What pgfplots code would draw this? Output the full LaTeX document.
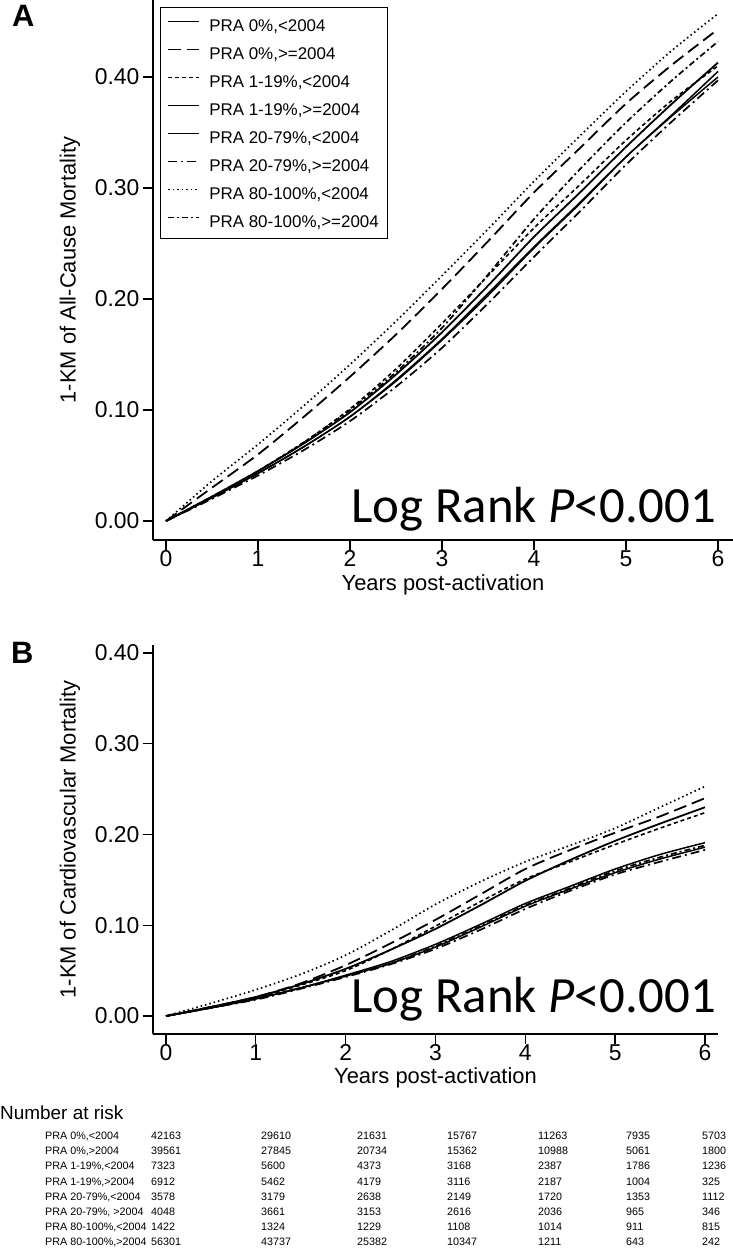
\documentclass[border=0pt]{standalone}
\usepackage{pgfplots}
\pgfplotsset{compat=1.18}
\usepackage{fontspec}
\setmainfont{Liberation Sans}
\newfontfamily\calibri{Carlito}
\begin{document}
\begin{tikzpicture}
\path[use as bounding box] (0bp,0bp) rectangle (733bp,1251bp);
\pgfplotsset{
  kmaxis/.style={
    scale only axis,
    anchor=south west,
    axis x line*=bottom, axis y line*=left,
    axis line style={line width=1.3bp, black},
    tick align=outside,
    major tick length=10bp,
    tick style={line width=1.3bp, black},
    xtick={0,1,2,3,4,5,6},
    ytick={0,0.1,0.2,0.3,0.4},
    yticklabels={0.00,0.10,0.20,0.30,0.40},
    /pgf/number format/assume math mode=true,
    ticklabel style={font=\fontsize{23}{26}\selectfont},
    xticklabel style={yshift=3bp},
    label style={font=\fontsize{22}{26}\selectfont},
    clip=false,
    every axis plot/.append style={smooth, tension=0.45},
  },
  s1/.style={black, line width=1.8bp, solid},
  s2/.style={black, line width=1.8bp, dash pattern=on 13bp off 6bp},
  s3/.style={black, line width=1.6bp, dash pattern=on 4bp off 3bp},
  s4/.style={black, line width=1.5bp, solid},
  s5/.style={black, line width=1.5bp, solid},
  s6/.style={black, line width=1.7bp, dash pattern=on 9bp off 4bp on 2bp off 4bp},
  s7/.style={black, line width=1.7bp, dash pattern=on 1.5bp off 3bp},
  s8/.style={black, line width=1.7bp, dash pattern=on 6bp off 3bp on 2bp off 3bp},
}
% ---------------- Panel A ----------------
\begin{axis}[kmaxis,
  at={(153bp,711bp)}, width=580bp, height=540bp,
  xmin=-0.1413, xmax=6.163, ymin=-0.0171, ymax=0.4694,
  xlabel={Years post-activation},
  ylabel={1-KM of All-Cause Mortality},
  xlabel style={at={(axis description cs:0.5,-0.083)}, anchor=center},
  ylabel style={at={(axis description cs:-0.143,0.5)}, anchor=center},
  legend style={at={(axis description cs:0.012,0.987)}, anchor=north west,
    draw=black, line width=1.1bp, font=\fontsize{17}{20}\selectfont,
    inner xsep=7bp, inner ysep=5.5bp, row sep=4bp,
    nodes={inner sep=2bp, text height=16bp, text depth=4bp},
    /tikz/every odd column/.append style={column sep=7bp}},
  legend cell align=left,
  legend image code/.code={\draw[#1, sharp plot] (0bp,0.35em) -- (31bp,0.35em);},
]
\addplot[s1] coordinates {(0,0) (0.5,0.022) (1,0.045) (1.5,0.070) (2,0.098) (2.5,0.132) (3,0.170) (3.5,0.212) (4,0.256) (4.5,0.296) (5,0.337) (5.5,0.376) (6,0.413)};
\addlegendentry{PRA 0\%,<2004}
\addplot[s2] coordinates {(0,0) (0.5,0.030) (1,0.060) (1.5,0.094) (2,0.130) (2.5,0.168) (3,0.209) (3.5,0.252) (4,0.296) (4.5,0.336) (5,0.376) (5.5,0.411) (6,0.443)};
\addlegendentry{PRA 0\%,>=2004}
\addplot[s3] coordinates {(0,0) (0.5,0.022) (1,0.045) (1.5,0.071) (2,0.101) (2.5,0.137) (3,0.178) (3.5,0.221) (4,0.264) (4.5,0.303) (5,0.343) (5.5,0.379) (6,0.410)};
\addlegendentry{PRA 1-19\%,<2004}
\addplot[s4] coordinates {(0,0) (0.5,0.021) (1,0.043) (1.5,0.067) (2,0.094) (2.5,0.126) (3,0.163) (3.5,0.203) (4,0.246) (4.5,0.286) (5,0.328) (5.5,0.366) (6,0.405)};
\addlegendentry{PRA 1-19\%,>=2004}
\addplot[s5] coordinates {(0,0) (0.5,0.021) (1,0.043) (1.5,0.067) (2,0.094) (2.5,0.127) (3,0.164) (3.5,0.205) (4,0.247) (4.5,0.287) (5,0.328) (5.5,0.365) (6,0.400)};
\addlegendentry{PRA 20-79\%,<2004}
\addplot[s6] coordinates {(0,0) (0.5,0.020) (1,0.041) (1.5,0.064) (2,0.090) (2.5,0.121) (3,0.156) (3.5,0.196) (4,0.238) (4.5,0.279) (5,0.321) (5.5,0.360) (6,0.397)};
\addlegendentry{PRA 20-79\%,>=2004}
\addplot[s7] coordinates {(0,0) (0.5,0.036) (1,0.069) (1.5,0.104) (2,0.141) (2.5,0.180) (3,0.221) (3.5,0.263) (4,0.306) (4.5,0.347) (5,0.387) (5.5,0.424) (6,0.457)};
\addlegendentry{PRA 80-100\%,<2004}
\addplot[s8] coordinates {(0,0) (0.5,0.022) (1,0.045) (1.5,0.071) (2,0.100) (2.5,0.134) (3,0.174) (3.5,0.222) (4,0.272) (4.5,0.317) (5,0.359) (5.5,0.397) (6,0.432)};
\addlegendentry{PRA 80-100\%,>=2004}
\end{axis}
% ---------------- Panel B ----------------
\begin{axis}[kmaxis,
  at={(153bp,217bp)}, width=565bp, height=389bp,
  xmin=-0.1447, xmax=6.145, ymin=-0.0198, ymax=0.4088,
  xlabel={Years post-activation},
  ylabel={1-KM of Cardiovascular Mortality},
  xlabel style={at={(axis description cs:0.5,-0.113)}, anchor=center},
  ylabel style={at={(axis description cs:-0.147,0.5)}, anchor=center},
]
\addplot[s1] coordinates {(0,0) (0.5,0.010) (1,0.021) (1.5,0.035) (2,0.052) (2.5,0.073) (3,0.096) (3.5,0.122) (4,0.149) (4.5,0.172) (5,0.193) (5.5,0.212) (6,0.230)};
\addplot[s2] coordinates {(0,0) (0.5,0.010) (1,0.021) (1.5,0.036) (2,0.056) (2.5,0.080) (3,0.106) (3.5,0.134) (4,0.162) (4.5,0.183) (5,0.202) (5.5,0.220) (6,0.240)};
\addplot[s3] coordinates {(0,0) (0.5,0.010) (1,0.020) (1.5,0.034) (2,0.050) (2.5,0.073) (3,0.099) (3.5,0.126) (4,0.151) (4.5,0.170) (5,0.189) (5.5,0.207) (6,0.224)};
\addplot[s4] coordinates {(0,0) (0.5,0.009) (1,0.019) (1.5,0.031) (2,0.045) (2.5,0.060) (3,0.079) (3.5,0.101) (4,0.124) (4.5,0.143) (5,0.162) (5.5,0.178) (6,0.191)};
\addplot[s5] coordinates {(0,0) (0.5,0.009) (1,0.019) (1.5,0.031) (2,0.044) (2.5,0.058) (3,0.076) (3.5,0.098) (4,0.121) (4.5,0.140) (5,0.158) (5.5,0.173) (6,0.186)};
\addplot[s6] coordinates {(0,0) (0.5,0.009) (1,0.018) (1.5,0.030) (2,0.043) (2.5,0.057) (3,0.074) (3.5,0.095) (4,0.118) (4.5,0.138) (5,0.156) (5.5,0.170) (6,0.183)};
\addplot[s7] coordinates {(0,0) (0.5,0.014) (1,0.029) (1.5,0.046) (2,0.067) (2.5,0.094) (3,0.123) (3.5,0.148) (4,0.170) (4.5,0.188) (5,0.207) (5.5,0.230) (6,0.253)};
\addplot[s8] coordinates {(0,0) (0.5,0.009) (1,0.019) (1.5,0.031) (2,0.044) (2.5,0.058) (3,0.077) (3.5,0.099) (4,0.122) (4.5,0.141) (5,0.160) (5.5,0.175) (6,0.188)};
\end{axis}
% panel letters and annotations
\node[anchor=base west, font=\bfseries\fontsize{31}{31}\selectfont, inner sep=0pt] at (12bp,1224bp) {A};
\node[anchor=base west, font=\bfseries\fontsize{31}{31}\selectfont, inner sep=0pt] at (11bp,587bp) {B};
\node[anchor=base east, font=\calibri\fontsize{51}{51}\selectfont, inner sep=0pt] at (716bp,728bp) {Log Rank \textit{P}<0.001};
\node[anchor=base east, font=\calibri\fontsize{51}{51}\selectfont, inner sep=0pt] at (716bp,238bp) {Log Rank \textit{P}<0.001};
% number at risk table
\node[anchor=base west, font=\fontsize{19}{19}\selectfont, inner sep=0pt] at (0bp,131bp) {Number at risk};
\foreach \lab/\a/\b/\c/\d/\e/\f/\g [count=\i from 0] in {
  {PRA 0\%,<2004}/42163/29610/21631/15767/11263/7935/5703,
  {PRA 0\%,>2004}/39561/27845/20734/15362/10988/5061/1800,
  {PRA 1-19\%,<2004}/7323/5600/4373/3168/2387/1786/1236,
  {PRA 1-19\%,>2004}/6912/5462/4179/3116/2187/1004/325,
  {PRA 20-79\%,<2004}/3578/3179/2638/2149/1720/1353/1112,
  {PRA 20-79\%, >2004}/4048/3661/3153/2616/2036/965/346,
  {PRA 80-100\%,<2004}/1422/1324/1229/1108/1014/911/815,
  {PRA 80-100\%,>2004}/56301/43737/25382/10347/1211/643/242}{
  \pgfmathsetmacro{\yy}{1251-1136-15.1*\i-3.8}
  \begin{scope}[every node/.style={anchor=base west, font=\fontsize{10.8}{12}\selectfont, inner sep=0pt}]
  \node at (45bp,\yy bp) {\lab};
  \node at (151bp,\yy bp) {\a};
  \node at (261bp,\yy bp) {\b};
  \node at (357bp,\yy bp) {\c};
  \node at (447bp,\yy bp) {\d};
  \node at (538bp,\yy bp) {\e};
  \node at (626bp,\yy bp) {\f};
  \node at (702bp,\yy bp) {\g};
  \end{scope}
}
\end{tikzpicture}
\end{document}
